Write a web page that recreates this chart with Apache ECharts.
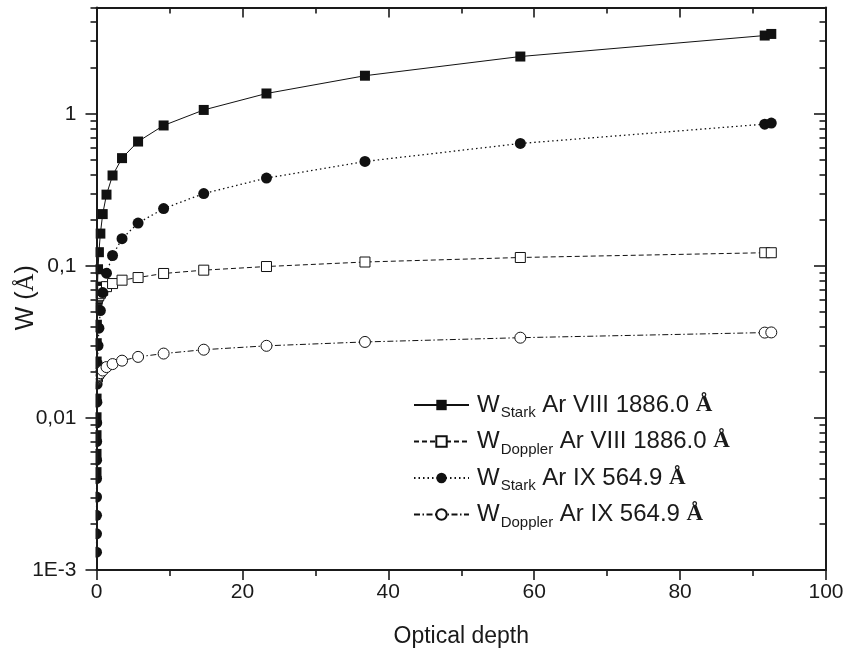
<!DOCTYPE html>
<html>
<head>
<meta charset="utf-8">
<script src="https://cdn.jsdelivr.net/npm/echarts@6/dist/echarts.min.js"></script>
<style>
  html, body { margin: 0; padding: 0; background: #fff; }
  #chart { width: 845px; height: 657px; }
</style>
</head>
<body>
<div id="chart"></div>
<script>
// Optical depth of each model point (shared by all four curves)
const opticalDepth = [0.0013, 0.0021, 0.0033, 0.0053, 0.0084, 0.013, 0.021, 0.033, 0.053, 0.084,
  0.13, 0.21, 0.33, 0.53, 0.85, 1.37, 2.2, 3.5, 5.7, 9.2, 14.7, 23.3, 36.8, 58.1, 91.6, 92.5];

// Line widths W (Å)
const starkArVIII = [0.0044, 0.0058, 0.0077, 0.0101, 0.0134, 0.0178, 0.0235, 0.031, 0.041, 0.054,
  0.073, 0.095, 0.123, 0.163, 0.219, 0.294, 0.393, 0.511, 0.657, 0.838, 1.06, 1.36, 1.78, 2.38, 3.27, 3.35];
const dopplerArVIII = [0.059, 0.059, 0.0591, 0.0592, 0.0593, 0.0595, 0.0597, 0.060, 0.0604, 0.061,
  0.0617, 0.0627, 0.064, 0.066, 0.069, 0.073, 0.0765, 0.0805, 0.0838, 0.0891, 0.0937, 0.099, 0.106, 0.1135, 0.122, 0.122];
const starkArIX = [0.00131, 0.00173, 0.00229, 0.00302, 0.00399, 0.00527, 0.00699, 0.00929, 0.0127, 0.0167,
  0.0226, 0.0299, 0.0389, 0.0508, 0.0667, 0.0895, 0.117, 0.151, 0.191, 0.238, 0.299, 0.378, 0.486, 0.638, 0.855, 0.869];
const dopplerArIX = [0.0177, 0.0177, 0.0177, 0.0177, 0.0178, 0.0178, 0.0179, 0.018, 0.0181, 0.0183,
  0.0185, 0.0188, 0.0192, 0.0197, 0.0205, 0.0216, 0.0226, 0.0238, 0.0252, 0.0265, 0.0281, 0.0298, 0.0316, 0.0337, 0.0364, 0.0365];

// Axis ticks
const yMajorTicks = [0.001, 0.01, 0.1, 1];
const yMajorLabels = ['1E-3', '0,01', '0,1', '1'];
const yMinorTicks = [];
[0.001, 0.01, 0.1, 1].forEach(function (d) {
  for (let m = 2; m <= 9; m++) {
    const v = +(m * d).toPrecision(3);
    if (v <= 5) yMinorTicks.push(v);
  }
});

// Legend entries
const legendNames = ['WStark Ar VIII', 'WDoppler Ar VIII', 'WStark Ar IX', 'WDoppler Ar IX'];
const legendSubs = ['Stark', 'Doppler', 'Stark', 'Doppler'];
const legendLines = ['Ar VIII 1886.0', 'Ar VIII 1886.0', 'Ar IX 564.9', 'Ar IX 564.9'];

const FONT = 'Liberation Sans, Arial, Helvetica, sans-serif';
const SERIF = 'Liberation Serif, DejaVu Serif, serif';
const INK = '#1a1a1a';

const GRID_LEFT = 96.5, GRID_RIGHT = 19, GRID_TOP = 7.5, GRID_BOTTOM = 87;

function pairs(ys) {
  return opticalDepth.map(function (x, i) { return [x, ys[i]]; });
}

const chart = echarts.init(document.getElementById('chart'), null, { renderer: 'canvas' });

const baseX = { type: 'value', min: 0, max: 100, interval: 20, gridIndex: 0, splitLine: { show: false }, z: 10 };
const baseY = { type: 'log', logBase: 10, min: 0.001, max: 5, gridIndex: 0, splitLine: { show: false }, z: 10 };

const option = {
  animation: false,
  backgroundColor: '#fff',
  grid: {
    left: GRID_LEFT, right: GRID_RIGHT, top: GRID_TOP, bottom: GRID_BOTTOM,
    containLabel: false, outerBoundsMode: 'none'
  },
  // markers are clipped by the plot frame on the left, as in the plotting program
  graphic: [{
    type: 'rect', z: 5, silent: true,
    shape: { x: 0, y: 0, width: GRID_LEFT - 1, height: 657 },
    style: { fill: '#fff' }
  }],
  xAxis: [
    Object.assign({}, baseX, {
      position: 'bottom',
      axisLine: { lineStyle: { color: INK, width: 2 } },
      axisTick: { inside: false, length: 10, lineStyle: { color: INK, width: 1.6 } },
      minorTick: { show: true, splitNumber: 2, length: 6, lineStyle: { color: INK, width: 1.6 } },
      axisLabel: { fontFamily: FONT, fontSize: 21, color: INK, margin: 12 },
      name: 'Optical depth',
      nameLocation: 'middle',
      nameGap: 55,
      nameMoveOverlap: false,
      nameTextStyle: { fontFamily: FONT, fontSize: 23, color: INK }
    }),
    Object.assign({}, baseX, {
      position: 'top',
      axisLine: { lineStyle: { color: INK, width: 2 } },
      axisTick: { inside: true, length: 10, lineStyle: { color: INK, width: 1.6 } },
      minorTick: { show: true, splitNumber: 2, length: 6, lineStyle: { color: INK, width: 1.6 } },
      axisLabel: { show: false }
    })
  ],
  yAxis: [
    Object.assign({}, baseY, {
      position: 'left',
      axisLine: { lineStyle: { color: INK, width: 2 } },
      axisTick: { inside: false, length: 11, customValues: yMajorTicks, lineStyle: { color: INK, width: 1.6 } },
      axisLabel: {
        customValues: yMajorTicks,
        fontFamily: FONT, fontSize: 21, color: INK, margin: 20,
        formatter: function (v) {
          const i = yMajorTicks.findIndex(function (t) { return Math.abs(Math.log10(t) - Math.log10(v)) < 1e-6; });
          return i >= 0 ? yMajorLabels[i] : '';
        }
      },
      name: 'W ({a|Å})',
      nameLocation: 'middle',
      nameGap: 58,
      nameRotate: 90,
      nameMoveOverlap: false,
      nameTextStyle: {
        fontFamily: FONT, fontSize: 25, color: INK, padding: [0, 18, 0, 0],
        rich: { a: { fontFamily: SERIF, fontSize: 25, color: INK } }
      }
    }),
    Object.assign({}, baseY, {
      position: 'left',
      axisLine: { show: false },
      axisTick: { inside: false, length: 6, customValues: yMinorTicks, lineStyle: { color: INK, width: 1.6 } },
      axisLabel: { show: false }
    }),
    Object.assign({}, baseY, {
      position: 'right',
      axisLine: { lineStyle: { color: INK, width: 2 } },
      axisTick: { inside: true, length: 12, customValues: yMajorTicks, lineStyle: { color: INK, width: 1.6 } },
      axisLabel: { show: false }
    }),
    Object.assign({}, baseY, {
      position: 'right',
      axisLine: { show: false },
      axisTick: { inside: true, length: 6.5, customValues: yMinorTicks, lineStyle: { color: INK, width: 1.6 } },
      axisLabel: { show: false }
    })
  ],
  legend: {
    orient: 'vertical',
    left: 413,
    top: 389.5,
    padding: 0,
    itemWidth: 55,
    itemHeight: 13,
    itemGap: 5.5,
    data: legendNames,
    formatter: function (name) {
      const i = legendNames.indexOf(name);
      return '{w|W}{s|' + legendSubs[i] + '}{t| ' + legendLines[i] + ' }{a|Å}';
    },
    textStyle: {
      color: INK,
      rich: {
        w: { fontFamily: FONT, fontSize: 24, color: INK, lineHeight: 28, padding: [0, 0, 0, 3] },
        s: { fontFamily: FONT, fontSize: 15, color: INK, lineHeight: 15, padding: [16, 0, 0, 1] },
        t: { fontFamily: FONT, fontSize: 24, color: INK, lineHeight: 28 },
        a: { fontFamily: SERIF, fontWeight: 'bold', fontSize: 23, color: INK, lineHeight: 28 }
      }
    }
  },
  series: [
    {
      name: legendNames[0], type: 'line', data: pairs(starkArVIII),
      symbol: 'rect', symbolSize: 10,
      itemStyle: { color: '#111', borderColor: '#111', borderWidth: 0 },
      lineStyle: { color: '#111', width: 1, type: 'solid' }
    },
    {
      name: legendNames[1], type: 'line', data: pairs(dopplerArVIII),
      symbol: 'rect', symbolSize: 10,
      itemStyle: { color: '#fff', borderColor: '#111', borderWidth: 1 },
      lineStyle: { color: '#111', width: 1, type: [5, 3] }
    },
    {
      name: legendNames[2], type: 'line', data: pairs(starkArIX),
      symbol: 'circle', symbolSize: 11,
      itemStyle: { color: '#111', borderColor: '#111', borderWidth: 0 },
      lineStyle: { color: '#111', width: 1.3, type: [1.5, 3] }
    },
    {
      name: legendNames[3], type: 'line', data: pairs(dopplerArIX),
      symbol: 'circle', symbolSize: 11,
      itemStyle: { color: '#fff', borderColor: '#111', borderWidth: 1 },
      lineStyle: { color: '#111', width: 1, type: [6, 2.5, 1.5, 2.5] }
    }
  ]
};

chart.setOption(option);
</script>
</body>
</html>
